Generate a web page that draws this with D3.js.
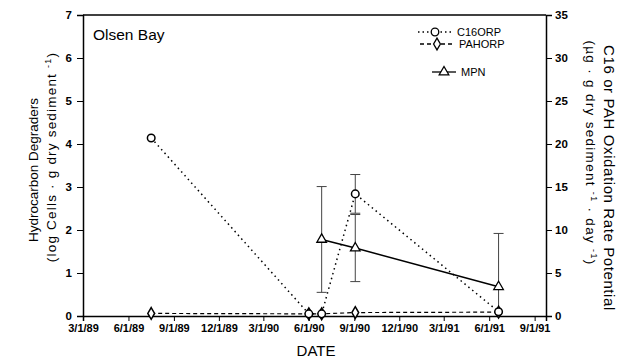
<!DOCTYPE html>
<html>
<head>
<meta charset="utf-8">
<script src="https://cdn.jsdelivr.net/npm/d3@7"></script>
<style>
  body { margin: 0; background: #fff; }
  svg { font-family: "Liberation Sans", Arial, sans-serif; }
</style>
</head>
<body>
<div id="chart"></div>
<script>
const parse = d3.timeParse("%m/%d/%y");

// C16 oxidation rate potential (right axis)
const c16Dates = ["7/17/89", "6/1/90", "6/27/90", "9/3/90", "6/20/91"];
const c16Values = [20.7, 0.25, 0.25, 14.2, 0.5];
const c16Err = [0, 0, 0, 2.25, 0];

// PAH oxidation rate potential (right axis)
const pahDates = ["7/17/89", "6/1/90", "6/27/90", "9/3/90", "6/20/91"];
const pahValues = [0.3, 0.25, 0.25, 0.4, 0.45];

// MPN hydrocarbon degraders (left axis, log cells)
const mpnDates = ["6/27/90", "9/3/90", "6/20/91"];
const mpnValues = [1.78, 1.58, 0.68];
const mpnErr = [1.23, 0.78, 1.24];

const xTickLabels = ["3/1/89", "6/1/89", "9/1/89", "12/1/89", "3/1/90", "6/1/90",
  "9/1/90", "12/1/90", "3/1/91", "6/1/91", "9/1/91"];

const width = 618, height = 361;
const margin = { top: 15, right: 72, bottom: 45, left: 83 };

const svg = d3.select("#chart").append("svg")
  .attr("width", width).attr("height", height);

const x = d3.scaleTime()
  .domain([parse("3/1/89"), parse("9/24/91")])
  .range([margin.left, width - margin.right]);
const yL = d3.scaleLinear().domain([0, 7]).range([height - margin.bottom, margin.top]);
const yR = d3.scaleLinear().domain([0, 35]).range([height - margin.bottom, margin.top]);

const c16 = c16Dates.map((d, i) => ({ date: parse(d), v: c16Values[i], e: c16Err[i] }));
const pah = pahDates.map((d, i) => ({ date: parse(d), v: pahValues[i] }));
const mpn = mpnDates.map((d, i) => ({ date: parse(d), v: mpnValues[i], e: mpnErr[i] }));

const x0 = margin.left, x1 = width - margin.right;
const yb = height - margin.bottom, yt = margin.top;

// frame top line
svg.append("line").attr("x1", x0).attr("x2", x1).attr("y1", yt).attr("y2", yt)
  .attr("stroke", "#000").attr("stroke-width", 1.5);

const tickFont = "'Liberation Sans Narrow', 'Liberation Sans', Arial";

// x axis
const gx = svg.append("g").attr("transform", `translate(0,${yb})`);
gx.call(d3.axisBottom(x).ticks(d3.timeMonth.every(1)).tickSize(3).tickFormat(""));
gx.call(d3.axisBottom(x).tickValues(xTickLabels.map(parse)).tickSize(5).tickPadding(3)
  .tickFormat(d3.timeFormat("%-m/%-d/%y")));
gx.selectAll(".domain").attr("stroke-width", 1.5);
gx.selectAll(".tick text").attr("font-size", 11);

// left axis
const gl = svg.append("g").attr("transform", `translate(${x0},0)`);
gl.call(d3.axisLeft(yL).tickValues(d3.range(0, 7.01, 0.5)).tickSize(3).tickFormat(""));
gl.call(d3.axisLeft(yL).ticks(7).tickSize(6).tickPadding(5));
gl.selectAll(".domain").attr("stroke-width", 1.5);

// right axis
const gr = svg.append("g").attr("transform", `translate(${x1},0)`);
gr.call(d3.axisRight(yR).tickValues(d3.range(0, 35.01, 2.5)).tickSize(3).tickFormat(""));
gr.call(d3.axisRight(yR).ticks(7).tickSize(6).tickPadding(3));
gr.selectAll(".domain").attr("stroke-width", 1.5);

gl.selectAll(".tick text").attr("font-size", 11.5);
gr.selectAll(".tick text").attr("font-size", 11.5);
svg.selectAll(".tick text").attr("font-weight", "bold")
  .attr("font-family", tickFont).attr("fill", "#000");

// error bars
function errBars(data, y, cls) {
  const g = svg.append("g").attr("class", cls).attr("stroke", "#444").attr("stroke-width", 1);
  data.filter(d => d.e > 0).forEach(d => {
    const cx = x(d.date);
    const lo = y(Math.max(0, d.v - d.e)), hi = y(d.v + d.e);
    g.append("line").attr("x1", cx).attr("x2", cx).attr("y1", lo).attr("y2", hi);
    g.append("line").attr("x1", cx - 5).attr("x2", cx + 5).attr("y1", hi).attr("y2", hi);
    if (d.v - d.e > 0)
      g.append("line").attr("x1", cx - 5).attr("x2", cx + 5).attr("y1", lo).attr("y2", lo);
  });
}
errBars(mpn, yL, "mpn-err");
errBars(c16, yR, "c16-err");

// lines
const lineR = d3.line().x(d => x(d.date)).y(d => yR(d.v));
const lineL = d3.line().x(d => x(d.date)).y(d => yL(d.v));

svg.append("path").datum(pah).attr("d", lineR).attr("fill", "none")
  .attr("stroke", "#000").attr("stroke-width", 1.2).attr("stroke-dasharray", "4,3");
svg.append("path").datum(c16).attr("d", lineR).attr("fill", "none")
  .attr("stroke", "#000").attr("stroke-width", 1.5).attr("stroke-dasharray", "1.5,3.5");
svg.append("path").datum(mpn).attr("d", lineL).attr("fill", "none")
  .attr("stroke", "#000").attr("stroke-width", 1.5);

// markers
const diamond = d3.symbol().type(d3.symbolDiamond).size(40);
const circle = d3.symbol().type(d3.symbolCircle).size(45);
const tri = d3.symbol().type(d3.symbolTriangle).size(40);

svg.selectAll(".pah").data(pah).join("path").attr("class", "pah")
  .attr("d", diamond).attr("transform", d => `translate(${x(d.date)},${yR(d.v)})`)
  .attr("fill", "#fff").attr("stroke", "#000").attr("stroke-width", 1.5);
svg.selectAll(".c16").data(c16).join("path").attr("class", "c16")
  .attr("d", circle).attr("transform", d => `translate(${x(d.date)},${yR(d.v)})`)
  .attr("fill", "#fff").attr("stroke", "#000").attr("stroke-width", 1.5);
svg.selectAll(".mpn").data(mpn).join("path").attr("class", "mpn")
  .attr("d", tri).attr("transform", d => `translate(${x(d.date)},${yL(d.v)})`)
  .attr("fill", "#fff").attr("stroke", "#000").attr("stroke-width", 1.3);

// legend
const legend = [
  { label: "C16ORP", y: 32, x1: 418, x2: 452, dash: "1.5,3", sym: circle, tx: 457 },
  { label: "PAHORP", y: 44, x1: 420, x2: 454, dash: "4,3", sym: diamond, tx: 459 },
  { label: "MPN", y: 72, x1: 432, x2: 456, dash: null, sym: tri, tx: 461 }
];
legend.forEach(l => {
  svg.append("line").attr("x1", l.x1).attr("x2", l.x2).attr("y1", l.y).attr("y2", l.y)
    .attr("stroke", "#000").attr("stroke-width", 1.3)
    .attr("stroke-dasharray", l.dash);
  svg.append("path").attr("d", l.sym).attr("transform", `translate(${(l.x1 + l.x2) / 2},${l.y})`)
    .attr("fill", "#fff").attr("stroke", "#000").attr("stroke-width", 1.3);
  svg.append("text").attr("x", l.tx).attr("y", l.y + 4).attr("font-size", 11)
    .text(l.label);
});

// titles
svg.append("text").attr("x", 93).attr("y", 40).attr("font-size", 15.5).text("Olsen Bay");
svg.append("text").attr("x", 316).attr("y", 356).attr("text-anchor", "middle")
  .attr("font-size", 15).text("DATE");

svg.append("text").attr("transform", "translate(38,170) rotate(-90)")
  .attr("text-anchor", "middle").attr("font-size", 13.5)
  .text("Hydrocarbon Degraders");
const leftT2 = svg.append("text").attr("transform", "translate(56,157) rotate(-90)")
  .attr("text-anchor", "middle").attr("font-size", 13.5).attr("letter-spacing", 1.2);
leftT2.append("tspan").text("(log Cells · g dry sediment ");
leftT2.append("tspan").attr("font-size", 9).attr("dy", -5).text("-1");
leftT2.append("tspan").attr("dy", 5).text(")");

svg.append("text").attr("transform", "translate(604,178) rotate(90)")
  .attr("text-anchor", "middle").attr("font-size", 15).attr("letter-spacing", 0.6)
  .text("C16 or PAH Oxidation Rate Potential");
const rightT2 = svg.append("text").attr("transform", "translate(586,153) rotate(90)")
  .attr("text-anchor", "middle").attr("font-size", 13.5).attr("letter-spacing", 1.3);
rightT2.append("tspan").text("(µg · g dry sediment ");
rightT2.append("tspan").attr("font-size", 9).attr("dy", -5).text("-1");
rightT2.append("tspan").attr("dy", 5).text(" · day ");
rightT2.append("tspan").attr("font-size", 9).attr("dy", -5).text("-1");
rightT2.append("tspan").attr("dy", 5).text(")");
</script>
</body>
</html>
